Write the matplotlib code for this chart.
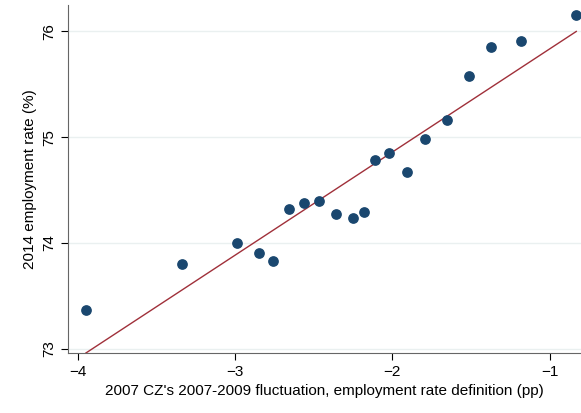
import numpy as np
import matplotlib.pyplot as plt

plt.rcParams['font.family'] = ['Liberation Sans', 'DejaVu Sans']

x = [-3.95, -3.34, -2.99, -2.85, -2.76, -2.66, -2.56, -2.47, -2.36, -2.25,
     -2.18, -2.11, -2.02, -1.91, -1.79, -1.65, -1.51, -1.37, -1.18, -0.83]
y = [73.37, 73.80, 74.00, 73.91, 73.83, 74.32, 74.38, 74.40, 74.27, 74.24,
     74.29, 74.78, 74.85, 74.67, 74.98, 75.16, 75.58, 75.85, 75.91, 76.16]
fit_x = [-3.95, -0.83]
fit_y = [72.96, 76.00]

fig = plt.figure(figsize=(5.81, 4.13), dpi=100)
ax = fig.add_axes([68/581, 1-353/413, 1-68/581, (353-5)/413])
ax.plot(fit_x, fit_y, color='#a0303a', lw=1, zorder=2)
ax.scatter(x, y, s=45, color='#1a476f', zorder=3)
ax.set_xlim(-4.064, -0.80)
ax.set_ylim(72.96, 76.25)
ax.set_xticks([-4, -3, -2, -1])
ax.set_yticks([73, 74, 75, 76])
ax.grid(axis='y', color='#eaf0f0', lw=1)
ax.set_axisbelow(True)
for s in ['top', 'right']:
    ax.spines[s].set_visible(False)
for s in ['left', 'bottom']:
    ax.spines[s].set_color('#666666')
ax.tick_params(colors='black', labelsize=11, length=5)
ax.tick_params(axis='y', labelrotation=90)
for t in ax.get_yticklabels():
    t.set_va('center')
ax.set_xlabel("2007 CZ's 2007-2009 fluctuation, employment rate definition (pp)", fontsize=11)
ax.set_ylabel('2014 employment rate (%)', fontsize=11)
fig.savefig('out.png')
